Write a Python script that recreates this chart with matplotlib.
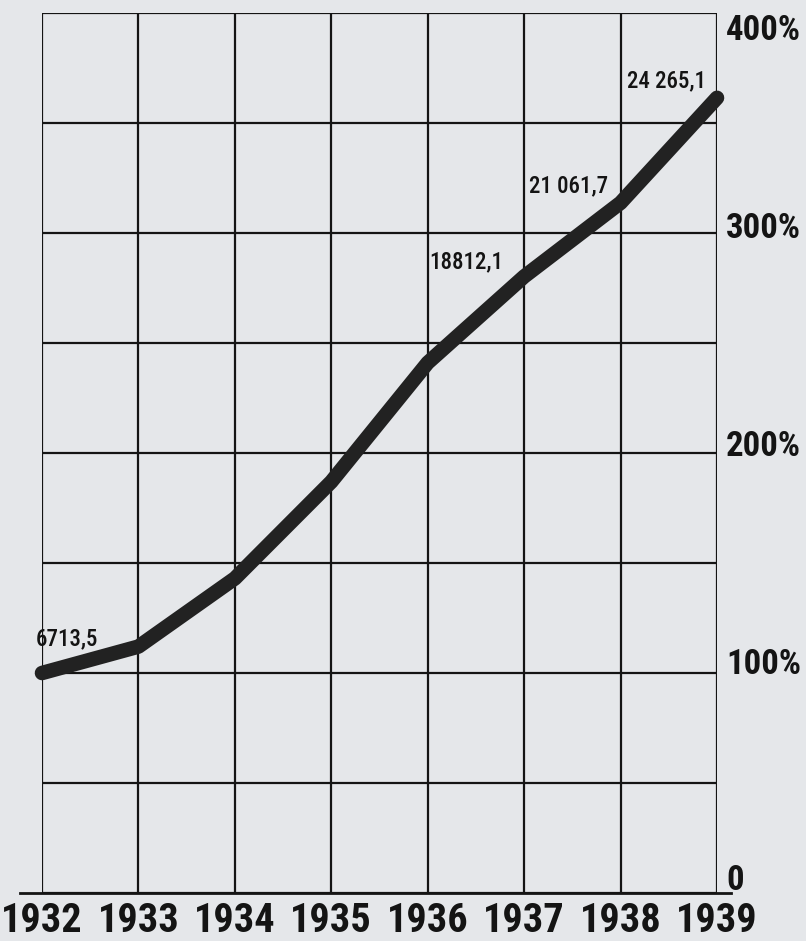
import matplotlib.pyplot as plt

# years and values (absolute, % of 1932)
years = [1932, 1933, 1934, 1935, 1936, 1937, 1938, 1939]
values = [6713.5, 7520, 9600, 12550, 16180, 18812.1, 21061.7, 24265.1]
pct = [v / values[0] * 100 for v in values]

# labelled points: index -> (text, offset in pixels)
point_labels = {0: ("6713,5", (25, 34)),
                5: ("18812,1", (-58, 15)),
                6: ("21 061,7", (-52, 17)),
                7: ("24 265,1", (-50, 17))}

right_ticks = [0, 100, 200, 300, 400]
right_labels = ["0", "100%", "200%", "300%", "400%"]
right_shift = [12, 8, 7, 5, -17]  # pixels up from gridline

paper = "#e5e7ea"
ink = "#141414"
narrow = ["Roboto Condensed", "DejaVu Sans"]

fig = plt.figure(figsize=(8.06, 9.41), dpi=100, facecolor=paper)
ax = fig.add_axes([42 / 806, 48 / 941, 675 / 806, 880 / 941])
ax.set_facecolor(paper)
ax.set_xlim(1932, 1939)
ax.set_ylim(0, 400)

# grid
for y in range(0, 401, 50):
    ax.axhline(y, color=ink, lw=1.6, zorder=1)
for x in years:
    ax.axvline(x, color=ink, lw=1.6, zorder=1)
ax.axhline(0, xmin=-0.033, xmax=1.02, color=ink, lw=2, clip_on=False, zorder=1)
for s in ax.spines.values():
    s.set_visible(False)
ax.set_xticks([])
ax.set_yticks([])

# main line
ax.plot(years, pct, color="#222222", lw=10.5, solid_capstyle="round",
        solid_joinstyle="round", clip_on=False, zorder=3)

for i, (txt, off) in point_labels.items():
    ax.annotate(txt, (years[i], pct[i]), xytext=off, textcoords="offset pixels",
                ha="center", va="center", fontsize=16.5, fontweight="medium",
                family=narrow, color=ink, zorder=4)

# year labels
for yr in years:
    ax.annotate(str(yr), (yr, 0), xytext=(0, -28), textcoords="offset pixels",
                ha="center", va="center", fontsize=29, fontweight="bold",
                family=narrow, color=ink, annotation_clip=False)

# right percent labels
for v, lab, sh in zip(right_ticks, right_labels, right_shift):
    ax.annotate(lab, (1939, v), xytext=(9, sh), textcoords="offset pixels",
                ha="left", va="center", fontsize=25, fontweight="bold",
                family=narrow, color=ink, annotation_clip=False)

fig.savefig("out.png", dpi=100, facecolor=paper)
